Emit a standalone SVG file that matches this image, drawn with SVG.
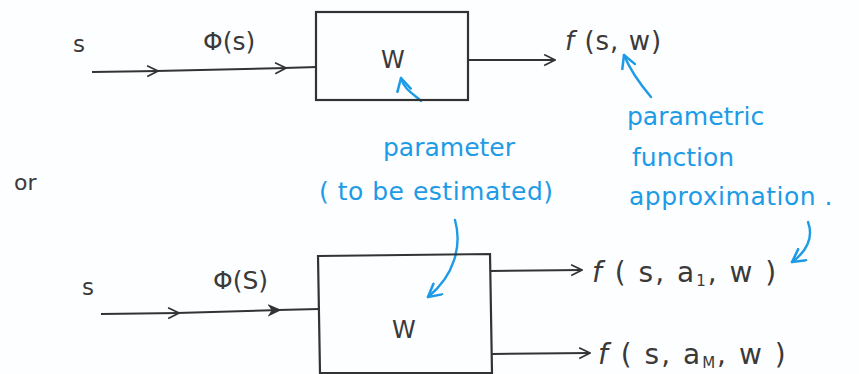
<svg xmlns="http://www.w3.org/2000/svg" width="859" height="374" viewBox="0 0 859 374">
<defs>
<marker id="open" viewBox="0 0 12 12" refX="11" refY="6" markerWidth="13" markerHeight="13" markerUnits="userSpaceOnUse" orient="auto"><path d="M1,1 L11,6 L1,11" fill="none" stroke="#333" stroke-width="1.6"/></marker>
<marker id="filled" viewBox="0 0 12 12" refX="11" refY="6" markerWidth="13" markerHeight="13" markerUnits="userSpaceOnUse" orient="auto"><path d="M1,1.5 L11,6 L1,10.5 L4,6 Z" fill="#333" stroke="#333" stroke-width="1.2"/></marker>
<marker id="blue" viewBox="0 0 14 14" refX="12" refY="7" markerWidth="16" markerHeight="16" markerUnits="userSpaceOnUse" orient="auto"><path d="M1,1 L12,7 L1,13" fill="none" stroke="#1e9be6" stroke-width="2.2" stroke-linecap="round" stroke-linejoin="round"/></marker>
</defs>
<style>
.ln{stroke:#333;stroke-width:2;fill:none}
.box{stroke:#333;stroke-width:2.2;fill:none}
.bl{stroke:#1e9be6;stroke-width:2.4;fill:none;stroke-linecap:round}
.t{font-family:"DejaVu Sans","Liberation Sans",sans-serif;fill:#3a3a3a;font-size:22px}
.tb{font-family:"DejaVu Sans","Liberation Sans",sans-serif;fill:#1e9be6;font-size:25px}
</style>
<rect width="859" height="374" fill="#fdfeff"/>
<g id="connectors">
<line class="ln" x1="92" y1="72" x2="158" y2="71" marker-end="url(#open)"/>
<line class="ln" x1="156" y1="71" x2="286" y2="68" marker-end="url(#open)"/>
<line class="ln" x1="284" y1="68" x2="317" y2="67"/>
<line class="ln" x1="468" y1="60" x2="555" y2="60" marker-end="url(#open)"/>
<line class="ln" x1="101" y1="314" x2="179" y2="313" marker-end="url(#open)"/>
<line class="ln" x1="177" y1="313" x2="280" y2="310" marker-end="url(#filled)"/>
<line class="ln" x1="278" y1="310" x2="319" y2="309"/>
<line class="ln" x1="490" y1="271" x2="582" y2="270" marker-end="url(#open)"/>
<line class="ln" x1="492" y1="354" x2="590" y2="353" marker-end="url(#open)"/>
<path class="bl" d="M421,101 C414,94 404,90 401,78" marker-end="url(#blue)"/>
<path class="bl" d="M651,97 C640,84 630,70 624,55" marker-end="url(#blue)"/>
<path class="bl" d="M455,220 C462,245 455,275 428,297" marker-end="url(#blue)"/>
<path class="bl" d="M808,222 C814,238 806,252 792,262" marker-end="url(#blue)"/>
</g>
<g id="input-top">
<text class="t" x="73" y="52" style="font-size:23px">s</text>
<text class="t" x="203" y="50" style="font-size:25px">Φ(s)</text>
</g>
<g id="box-top">
<rect class="box" x="316" y="12" width="152" height="88"/>
<text class="t" x="381" y="68" style="font-size:24px">W</text>
</g>
<g id="out-top">
<text class="t" x="565" y="50" style="font-size:26px" letter-spacing="1"><tspan font-style="italic">f</tspan> (s, w)</text>
</g>
<g id="or"><text class="t" x="14" y="190" style="font-size:22px">or</text></g>
<g id="param-label">
<text class="tb" x="383" y="156">parameter</text>
<text class="tb" x="319" y="200" letter-spacing="0.5">( to be estimated)</text>
</g>
<g id="approx-label">
<text class="tb" x="627" y="125">parametric</text>
<text class="tb" x="632" y="166">function</text>
<text class="tb" x="629" y="205" letter-spacing="0.5">approximation .</text>
</g>
<g id="input-bottom">
<text class="t" x="82" y="295" style="font-size:23px">s</text>
<text class="t" x="213" y="289" style="font-size:25px">Φ(S)</text>
</g>
<g id="box-bottom">
<path class="box" d="M318,256 L490,254 L492,373 L320,373 Z"/>
<text class="t" x="392" y="338" style="font-size:24px">W</text>
</g>
<g id="out-bottom">
<text class="t" x="592" y="282" style="font-size:28px" letter-spacing="2"><tspan font-style="italic">f</tspan> ( s, a<tspan style="font-size:15px" dy="4">1</tspan><tspan dy="-4">, w )</tspan></text>
<text class="t" x="598" y="364" style="font-size:28px" letter-spacing="2"><tspan font-style="italic">f</tspan> ( s, a<tspan style="font-size:15px" dy="4">M</tspan><tspan dy="-4">, w )</tspan></text>
</g>
</svg>
